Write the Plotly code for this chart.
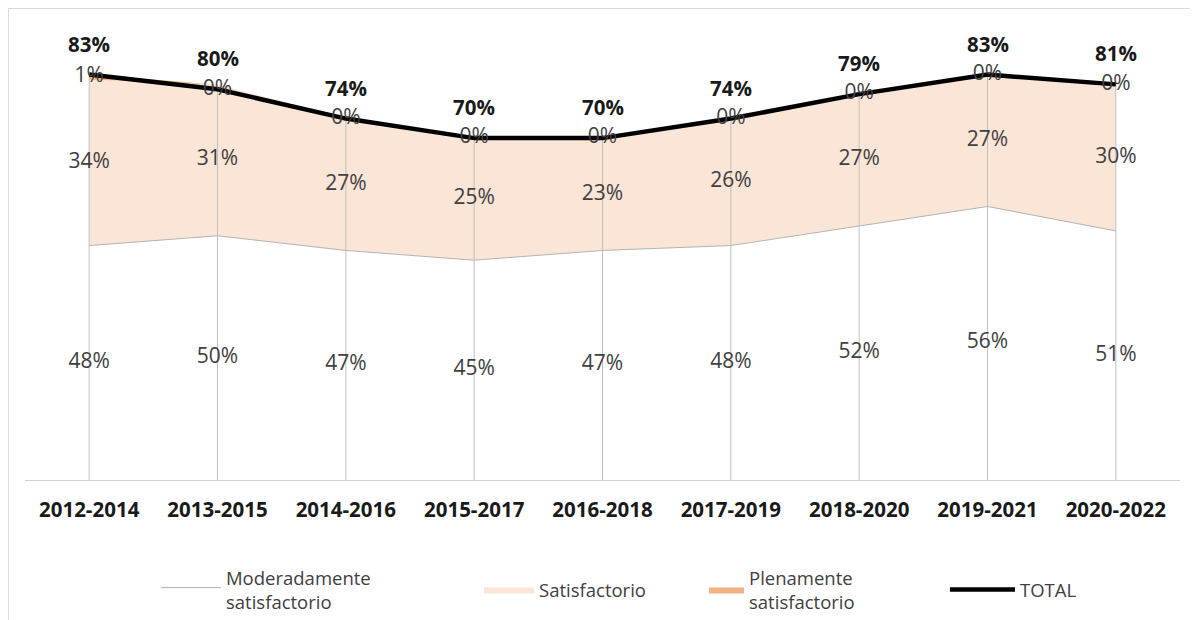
import plotly.graph_objects as go

categories = ["2012-2014", "2013-2015", "2014-2016", "2015-2017", "2016-2018",
              "2017-2019", "2018-2020", "2019-2021", "2020-2022"]
moderado = [48, 50, 47, 45, 47, 48, 52, 56, 51]
satisfactorio = [34, 31, 27, 25, 23, 26, 27, 27, 30]
plenamente = [1, 0, 0, 0, 0, 0, 0, 0, 0]
total = [83, 80, 74, 70, 70, 74, 79, 83, 81]

FONT = "Open Sans"
LABEL_COLOR = "#404040"

fig = go.Figure()

fig.add_trace(go.Scatter(
    x=categories, y=moderado, name="Moderadamente<br>satisfactorio",
    stackgroup="one", mode="lines", line=dict(color="#b3b3b3", width=1),
    fillcolor="#ffffff", legend="legend", hoverinfo="skip"))
fig.add_trace(go.Scatter(
    x=categories, y=satisfactorio, name="Satisfactorio",
    stackgroup="one", mode="lines", line=dict(color="#FBE5D6", width=0),
    fillcolor="#FBE5D6", legend="legend2", hoverinfo="skip"))
fig.add_trace(go.Scatter(
    x=categories, y=plenamente, name="Plenamente<br>satisfactorio",
    stackgroup="one", mode="lines", line=dict(color="#F4B183", width=0),
    fillcolor="#F4B183", legend="legend3", hoverinfo="skip"))

# drop lines
dx, dy = [], []
for c, t in zip(categories, total):
    dx += [c, c, None]
    dy += [0, t, None]
fig.add_trace(go.Scatter(x=dx, y=dy, mode="lines", line=dict(color="#bfbfbf", width=1),
                         showlegend=False, hoverinfo="skip"))

fig.add_trace(go.Scatter(
    x=categories, y=total, name="TOTAL", mode="lines",
    line=dict(color="#000000", width=4.5), legend="legend4", hoverinfo="skip"))

# band labels
mid_mod = [m / 2 for m in moderado]
mid_sat = [m + s / 2 for m, s in zip(moderado, satisfactorio)]
mid_plen = [t - p / 2 for t, p in zip(total, plenamente)]
for ys, vals in [(mid_mod, moderado), (mid_sat, satisfactorio), (mid_plen, plenamente)]:
    fig.add_trace(go.Scatter(
        x=categories, y=ys, mode="text", text=[f"{v}%" for v in vals],
        textposition="middle center",
        textfont=dict(family=FONT, size=21, color=LABEL_COLOR),
        showlegend=False, hoverinfo="skip"))

for c, t in zip(categories, total):
    fig.add_annotation(x=c, y=t, text=f"<b>{t}%</b>", showarrow=False,
                       yshift=31, font=dict(family=FONT, size=20.5, color="#1a1a1a"))

legend_common = dict(orientation="v", yanchor="middle", xanchor="left",
                     bgcolor="rgba(0,0,0,0)", y=-0.2371,
                     font=dict(family=FONT, size=18.5, color="#404040"))

fig.update_layout(
    width=1190, height=612,
    margin=dict(l=17, r=18, t=8, b=140, autoexpand=False),
    paper_bgcolor="#ffffff", plot_bgcolor="#ffffff",
    font=dict(family=FONT, color="#404040"),
    xaxis=dict(type="category", range=[-0.5, 8.5], showgrid=False,
               showline=True, linecolor="#d0d0d0", linewidth=1,
               ticks="", ticklabelstandoff=11, automargin=False,
               tickfont=dict(family=FONT, size=20.5, color="#1a1a1a", weight="bold")),
    yaxis=dict(range=[0, 95], showgrid=False, showticklabels=False, automargin=False,
               zeroline=False, showline=False, ticks=""),
    legend=dict(x=0.1134, itemwidth=60, **legend_common),
    legend2=dict(x=0.3931, itemwidth=50, **legend_common),
    legend3=dict(x=0.5879, itemwidth=35, **legend_common),
    legend4=dict(x=0.7965, itemwidth=65, **legend_common),
    shapes=[dict(type="rect", xref="paper", yref="paper",
                 x0=-0.0143, x1=1.0147, y0=-0.33, y1=1.0162,
                 line=dict(color="#d9d9d9", width=1), fillcolor="rgba(0,0,0,0)",
                 layer="below")],
)

fig.write_html("out.html")
